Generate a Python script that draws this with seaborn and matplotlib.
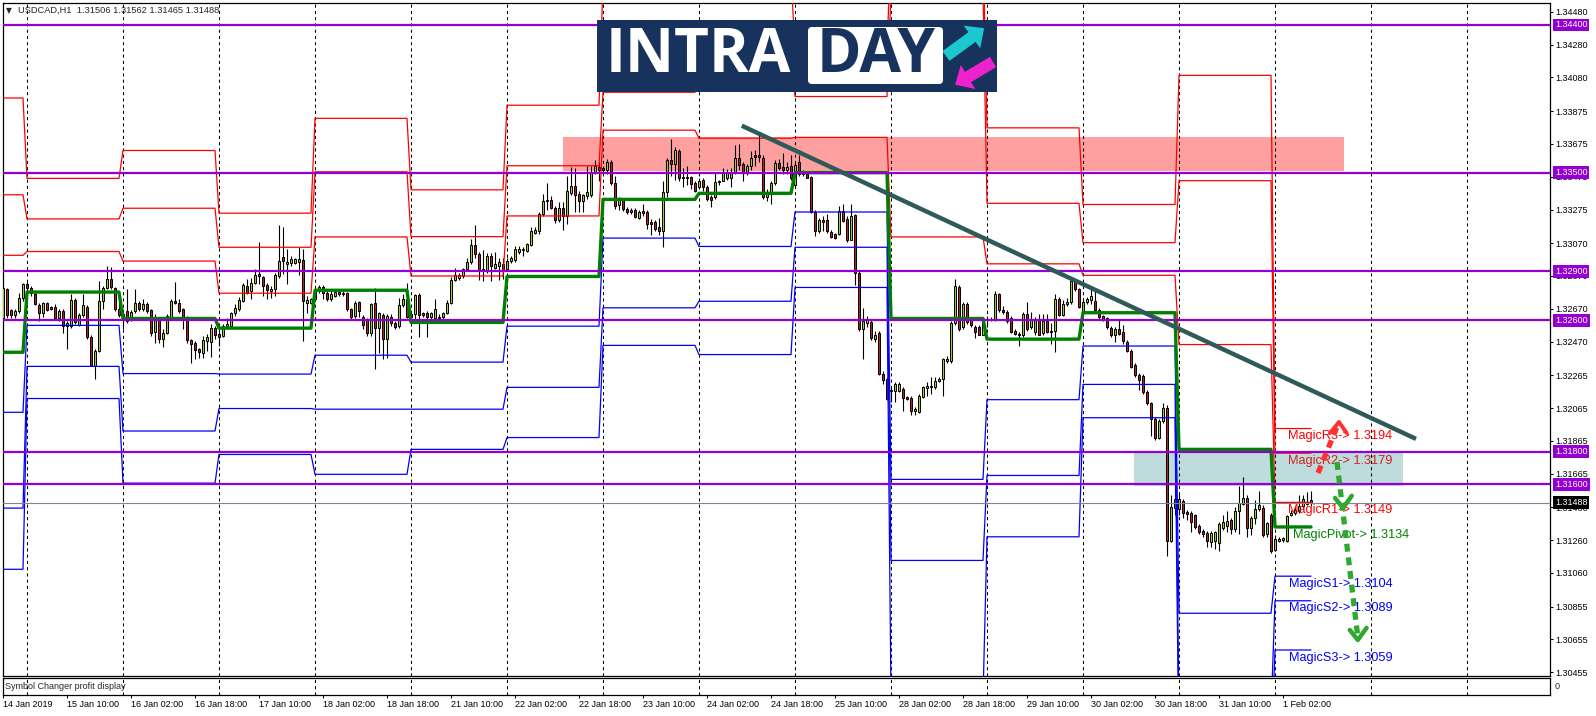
import numpy as np
import pandas as pd
import matplotlib
matplotlib.use("Agg")
import matplotlib.pyplot as plt
import seaborn as sns
from matplotlib.patches import Rectangle, FancyBboxPatch, FancyArrow
from matplotlib.transforms import blended_transform_factory

sns.set_theme(style="white")
plt.rcParams['font.family'] = ['Liberation Sans', 'DejaVu Sans']

# ---------------- data ----------------
header_text = "USDCAD,H1  1.31506 1.31562 1.31465 1.31488"

opens = [
    1.32616,1.32792,1.32660,1.32630,1.32656,1.32733,1.32823,1.32798,1.32762,1.32691,1.32646,1.32703,
    1.32681,1.32683,1.32616,1.32656,1.32565,1.32565,1.32723,1.32569,1.32630,1.32683,1.32500,1.32321,
    1.32412,1.32717,1.32798,1.32849,1.32798,1.32670,1.32609,1.32656,1.32601,1.32656,1.32703,1.32666,
    1.32697,1.32660,1.32528,1.32605,1.32483,1.32524,1.32622,1.32717,1.32703,1.32666,1.32616,1.32479,
    1.32463,1.32422,1.32402,1.32473,1.32467,1.32553,1.32514,1.32504,1.32565,1.32565,1.32642,1.32666,
    1.32717,1.32809,1.32778,1.32829,1.32880,1.32865,1.32813,1.32778,1.32788,1.32870,1.32987,1.32941,
    1.32947,1.32951,1.32955,1.32967,1.32703,1.32703,1.32727,1.32778,1.32804,1.32768,1.32727,1.32748,
    1.32772,1.32768,1.32764,1.32670,1.32626,1.32711,1.32622,1.32605,1.32524,1.32703,1.32555,1.32630,
    1.32488,1.32622,1.32585,1.32565,1.32691,1.32731,1.32636,1.32636,1.32752,1.32642,1.32646,1.32622,
    1.32616,1.32622,1.32622,1.32642,1.32706,1.32844,1.32858,1.32867,1.32910,1.32956,1.33056,1.33003,
    1.32898,1.32898,1.32991,1.32921,1.32933,1.32914,1.32914,1.32961,1.32968,1.33015,1.33026,1.33022,
    1.33061,1.33131,1.33143,1.33248,1.33325,1.33334,1.33283,1.33213,1.33283,1.33236,1.33376,1.33416,
    1.33372,1.33325,1.33358,1.33365,1.33505,1.33535,1.33528,1.33516,1.33563,1.33435,1.33301,1.33334,
    1.33278,1.33271,1.33271,1.33225,1.33264,1.33260,1.33201,1.33201,1.33166,1.33143,1.33381,1.33575,
    1.33551,1.33633,1.33474,1.33474,1.33474,1.33435,1.33411,1.33458,1.33411,1.33353,1.33353,1.33442,
    1.33451,1.33470,1.33465,1.33498,1.33591,1.33551,1.33498,1.33540,1.33610,1.33610,1.33591,1.33353,
    1.33376,1.33435,1.33558,1.33535,1.33516,1.33540,1.33423,1.33563,1.33505,1.33493,1.33474,1.33260,
    1.33143,1.33213,1.33213,1.33138,1.33124,1.33124,1.33264,1.33218,1.33092,1.33241,1.32886,1.32548,
    1.32583,1.32587,1.32485,1.32524,1.32275,1.32244,1.32167,1.32167,1.32167,1.32181,1.32135,1.32128,
    1.32046,1.32041,1.32135,1.32186,1.32191,1.32191,1.32228,1.32244,1.32349,1.32349,1.32583,1.32804,
    1.32559,1.32699,1.32606,1.32559,1.32559,1.32513,1.32601,1.32601,1.32606,1.32758,1.32664,1.32653,
    1.32611,1.32536,1.32517,1.32513,1.32641,1.32559,1.32531,1.32601,1.32524,1.32594,1.32531,1.32536,
    1.32727,1.32634,1.32699,1.32711,1.32839,1.32788,1.32653,1.32711,1.32723,1.32718,1.32664,1.32625,
    1.32611,1.32555,1.32508,1.32548,1.32531,1.32466,1.32415,1.32326,1.32268,1.32261,1.32163,1.32093,
    1.31999,1.31883,1.31988,1.32065,1.31257,1.31458,1.31451,1.31497,1.31434,1.31428,1.31411,1.31346,
    1.31318,1.31304,1.31248,1.31253,1.31241,1.31334,1.31346,1.31381,1.31327,1.31439,1.31481,1.31514,
    1.31334,1.31393,1.31451,1.31458,1.31299,1.31416,1.31201,1.31257,1.31262,1.31257,1.31416,1.31428,
    1.31439,1.31467,1.31486,1.31506]

highs = [
    1.32809,1.32798,1.32670,1.32670,1.32764,1.32829,1.32833,1.32809,1.32772,1.32703,1.32711,1.32711,
    1.32690,1.32697,1.32666,1.32666,1.32595,1.32758,1.32737,1.32646,1.32762,1.32691,1.32508,1.32422,
    1.32839,1.32809,1.32930,1.32926,1.32804,1.32778,1.32666,1.32792,1.32660,1.32792,1.32717,1.32727,
    1.32711,1.32670,1.32636,1.32616,1.32544,1.32636,1.32727,1.32835,1.32731,1.32676,1.32626,1.32488,
    1.32473,1.32433,1.32504,1.32514,1.32575,1.32565,1.32534,1.32575,1.32616,1.32650,1.32697,1.32742,
    1.32825,1.32849,1.32859,1.32910,1.33077,1.32870,1.32829,1.32809,1.32890,1.33178,1.33166,1.33032,
    1.32991,1.32981,1.33045,1.33032,1.32748,1.32737,1.32788,1.32813,1.32813,1.32778,1.32778,1.32790,
    1.32788,1.32778,1.32772,1.32676,1.32717,1.32717,1.32630,1.32616,1.32707,1.32798,1.32650,1.32646,
    1.32636,1.32636,1.32595,1.32737,1.32758,1.32829,1.32646,1.32758,1.32768,1.32650,1.32656,1.32650,
    1.32727,1.32640,1.32650,1.32723,1.32863,1.32921,1.32886,1.32921,1.32980,1.33096,1.33178,1.33015,
    1.33026,1.33008,1.33008,1.33015,1.32980,1.32980,1.32980,1.32991,1.33054,1.33050,1.33045,1.33073,
    1.33166,1.33171,1.33260,1.33372,1.33435,1.33358,1.33299,1.33318,1.33318,1.33481,1.33535,1.33528,
    1.33388,1.33372,1.33540,1.33540,1.33575,1.33563,1.33540,1.33582,1.33575,1.33481,1.33353,1.33341,
    1.33288,1.33283,1.33283,1.33271,1.33311,1.33271,1.33218,1.33213,1.33225,1.33451,1.33591,1.33703,
    1.33656,1.33645,1.33528,1.33540,1.33481,1.33446,1.33470,1.33470,1.33423,1.33365,1.33498,1.33458,
    1.33528,1.33521,1.33528,1.33668,1.33675,1.33563,1.33551,1.33633,1.33638,1.33738,1.33610,1.33400,
    1.33446,1.33575,1.33582,1.33621,1.33563,1.33610,1.33563,1.33610,1.33516,1.33505,1.33481,1.33271,
    1.33225,1.33236,1.33248,1.33148,1.33131,1.33295,1.33306,1.33236,1.33311,1.33248,1.32898,1.32676,
    1.32629,1.32606,1.32536,1.32536,1.32291,1.32256,1.32186,1.32221,1.32221,1.32191,1.32139,1.32139,
    1.32069,1.32151,1.32198,1.32221,1.32256,1.32256,1.32256,1.32373,1.32384,1.32594,1.32851,1.32816,
    1.32711,1.32711,1.32618,1.32571,1.32571,1.32618,1.32625,1.32618,1.32781,1.32769,1.32688,1.32664,
    1.32625,1.32548,1.32531,1.32653,1.32711,1.32648,1.32618,1.32641,1.32641,1.32641,1.32583,1.32758,
    1.32741,1.32723,1.32734,1.32851,1.32851,1.32797,1.32734,1.32741,1.32804,1.32781,1.32676,1.32634,
    1.32618,1.32564,1.32559,1.32606,1.32571,1.32478,1.32424,1.32338,1.32279,1.32275,1.32174,1.32104,
    1.32011,1.31999,1.32097,1.32081,1.31533,1.31602,1.31544,1.31509,1.31444,1.31439,1.31421,1.31358,
    1.31327,1.31318,1.31318,1.31318,1.31369,1.31416,1.31439,1.31393,1.31462,1.31591,1.31644,1.31533,
    1.31404,1.31504,1.31560,1.31474,1.31369,1.31428,1.31288,1.31276,1.31281,1.31416,1.31444,1.31462,
    1.31533,1.31533,1.31556,1.31562]

lows = [
    1.32605,1.32616,1.32616,1.32616,1.32646,1.32720,1.32768,1.32748,1.32691,1.32595,1.32622,1.32656,
    1.32660,1.32605,1.32595,1.32524,1.32427,1.32555,1.32575,1.32565,1.32622,1.32483,1.32321,1.32244,
    1.32406,1.32666,1.32788,1.32788,1.32656,1.32620,1.32544,1.32581,1.32595,1.32646,1.32656,1.32656,
    1.32646,1.32504,1.32463,1.32463,1.32439,1.32514,1.32616,1.32697,1.32646,1.32544,1.32463,1.32337,
    1.32362,1.32372,1.32372,1.32412,1.32378,1.32483,1.32443,1.32500,1.32544,1.32555,1.32626,1.32656,
    1.32711,1.32758,1.32727,1.32819,1.32819,1.32748,1.32727,1.32737,1.32748,1.32859,1.32880,1.32819,
    1.32930,1.32941,1.32874,1.32473,1.32646,1.32697,1.32717,1.32768,1.32727,1.32717,1.32717,1.32740,
    1.32748,1.32750,1.32656,1.32601,1.32616,1.32622,1.32544,1.32504,1.32504,1.32305,1.32402,1.32362,
    1.32372,1.32565,1.32544,1.32555,1.32683,1.32616,1.32595,1.32601,1.32500,1.32620,1.32500,1.32610,
    1.32605,1.32600,1.32610,1.32636,1.32699,1.32839,1.32844,1.32858,1.32898,1.32945,1.32980,1.32844,
    1.32839,1.32886,1.32839,1.32910,1.32844,1.32851,1.32898,1.32952,1.32956,1.33003,1.32991,1.33015,
    1.33050,1.33124,1.33124,1.33236,1.33271,1.33278,1.33194,1.33201,1.33148,1.33185,1.33365,1.33260,
    1.33260,1.33260,1.33341,1.33353,1.33493,1.33446,1.33505,1.33493,1.33423,1.33278,1.33271,1.33264,
    1.33248,1.33248,1.33225,1.33218,1.33236,1.33155,1.33120,1.33143,1.33120,1.33045,1.33353,1.33481,
    1.33458,1.33451,1.33411,1.33423,1.33400,1.33381,1.33400,1.33388,1.33330,1.33288,1.33341,1.33423,
    1.33446,1.33458,1.33411,1.33493,1.33516,1.33446,1.33488,1.33516,1.33540,1.33563,1.33341,1.33330,
    1.33311,1.33423,1.33516,1.33493,1.33493,1.33458,1.33411,1.33481,1.33481,1.33465,1.33255,1.33115,
    1.33131,1.33143,1.33131,1.33103,1.33096,1.33120,1.33201,1.33078,1.33092,1.32816,1.32536,1.32361,
    1.32559,1.32478,1.32466,1.32268,1.32214,1.32116,1.32104,1.32104,1.32163,1.32046,1.32116,1.32023,
    1.32023,1.32034,1.32128,1.32139,1.32151,1.32181,1.32221,1.32139,1.32338,1.32338,1.32571,1.32536,
    1.32548,1.32578,1.32559,1.32489,1.32508,1.32508,1.32559,1.32594,1.32594,1.32653,1.32641,1.32583,
    1.32524,1.32513,1.32443,1.32501,1.32536,1.32548,1.32513,1.32508,1.32513,1.32524,1.32454,1.32408,
    1.32625,1.32629,1.32688,1.32699,1.32781,1.32676,1.32641,1.32699,1.32699,1.32653,1.32606,1.32594,
    1.32548,1.32501,1.32466,1.32508,1.32454,1.32408,1.32307,1.32256,1.32174,1.32151,1.32081,1.31894,
    1.31871,1.31878,1.31976,1.31164,1.31248,1.31416,1.31416,1.31393,1.31381,1.31311,1.31327,1.31295,
    1.31281,1.31218,1.31218,1.31206,1.31194,1.31323,1.31311,1.31299,1.31311,1.31299,1.31474,1.31276,
    1.31288,1.31358,1.31439,1.31276,1.31281,1.31183,1.31194,1.31248,1.31248,1.31248,1.31404,1.31416,
    1.31428,1.31458,1.31474,1.31465]

closes = [
    1.32798,1.32630,1.32632,1.32656,1.32733,1.32823,1.32798,1.32768,1.32697,1.32642,1.32703,1.32662,
    1.32666,1.32616,1.32656,1.32565,1.32585,1.32721,1.32589,1.32630,1.32691,1.32500,1.32325,1.32412,
    1.32717,1.32798,1.32849,1.32804,1.32670,1.32630,1.32636,1.32595,1.32650,1.32703,1.32666,1.32697,
    1.32656,1.32524,1.32622,1.32483,1.32524,1.32626,1.32717,1.32703,1.32656,1.32605,1.32479,1.32453,
    1.32418,1.32406,1.32479,1.32500,1.32553,1.32508,1.32500,1.32565,1.32575,1.32642,1.32672,1.32723,
    1.32813,1.32768,1.32829,1.32874,1.32870,1.32809,1.32784,1.32792,1.32874,1.32961,1.32961,1.32955,
    1.32971,1.32971,1.32975,1.32717,1.32723,1.32727,1.32778,1.32804,1.32768,1.32727,1.32760,1.32772,
    1.32758,1.32758,1.32666,1.32622,1.32707,1.32656,1.32569,1.32524,1.32697,1.32555,1.32642,1.32488,
    1.32626,1.32581,1.32561,1.32691,1.32731,1.32622,1.32622,1.32752,1.32630,1.32630,1.32622,1.32646,
    1.32666,1.32616,1.32642,1.32703,1.32844,1.32874,1.32874,1.32914,1.32956,1.33061,1.33003,1.32898,
    1.32910,1.32991,1.32933,1.32945,1.32956,1.32945,1.32961,1.32980,1.33033,1.33033,1.33033,1.33066,
    1.33143,1.33148,1.33248,1.33330,1.33334,1.33283,1.33213,1.33283,1.33236,1.33388,1.33416,1.33365,
    1.33325,1.33365,1.33381,1.33505,1.33540,1.33516,1.33516,1.33563,1.33435,1.33295,1.33341,1.33278,
    1.33260,1.33260,1.33232,1.33260,1.33255,1.33185,1.33185,1.33155,1.33143,1.33381,1.33575,1.33551,
    1.33638,1.33470,1.33465,1.33465,1.33428,1.33388,1.33451,1.33411,1.33341,1.33334,1.33442,1.33451,
    1.33500,1.33500,1.33505,1.33591,1.33544,1.33498,1.33540,1.33591,1.33598,1.33598,1.33353,1.33381,
    1.33435,1.33558,1.33528,1.33516,1.33535,1.33470,1.33544,1.33493,1.33493,1.33470,1.33260,1.33143,
    1.33213,1.33201,1.33143,1.33108,1.33103,1.33264,1.33208,1.33092,1.33236,1.32886,1.32548,1.32594,
    1.32599,1.32489,1.32513,1.32275,1.32237,1.32121,1.32174,1.32214,1.32214,1.32128,1.32121,1.32046,
    1.32058,1.32139,1.32191,1.32198,1.32198,1.32228,1.32244,1.32361,1.32361,1.32583,1.32811,1.32548,
    1.32699,1.32587,1.32571,1.32531,1.32513,1.32606,1.32606,1.32606,1.32758,1.32664,1.32653,1.32594,
    1.32531,1.32517,1.32508,1.32641,1.32548,1.32606,1.32606,1.32513,1.32594,1.32531,1.32536,1.32727,
    1.32634,1.32699,1.32711,1.32839,1.32788,1.32681,1.32711,1.32727,1.32746,1.32664,1.32618,1.32606,
    1.32559,1.32508,1.32548,1.32517,1.32471,1.32415,1.32314,1.32268,1.32237,1.32163,1.32093,1.31999,
    1.31883,1.31988,1.32065,1.31257,1.31462,1.31509,1.31509,1.31428,1.31421,1.31369,1.31341,1.31311,
    1.31299,1.31253,1.31304,1.31311,1.31358,1.31369,1.31374,1.31327,1.31439,1.31486,1.31514,1.31334,
    1.31393,1.31451,1.31474,1.31288,1.31365,1.31194,1.31264,1.31264,1.31271,1.31404,1.31428,1.31444,
    1.31467,1.31509,1.31481,1.31488]

# daily pivot levels (one value per trading day), day lengths in H1 bars
day_len = [6, 24, 24, 24, 24, 24, 24, 24, 24, 24, 24, 24, 24, 24, 10]
r3 = [1.33955, 1.33465, 1.33635, 1.33253, 1.33831, 1.33395, 1.33911, 1.34650, 1.34700, 1.34250, 1.34900, 1.33773, 1.33306, 1.34093, 1.3194]
r2 = [1.33365, 1.33218, 1.33283, 1.33045, 1.33505, 1.33110, 1.33542, 1.33990, 1.34250, 1.33964, 1.34600, 1.33313, 1.33073, 1.33451, 1.3179]
r1 = [1.32996, 1.33019, 1.32961, 1.32765, 1.33108, 1.32870, 1.33236, 1.33759, 1.33710, 1.33715, 1.33108, 1.32944, 1.32874, 1.32452, 1.3149]
pv = [1.32405, 1.32772, 1.32611, 1.32552, 1.32783, 1.32587, 1.32867, 1.33337, 1.33374, 1.33500, 1.32611, 1.32485, 1.32646, 1.31813, 1.3134]
s1 = [1.32039, 1.32569, 1.32275, 1.32272, 1.32387, 1.32345, 1.32564, 1.33101, 1.33050, 1.33260, 1.31630, 1.32116, 1.32443, 1.30814, 1.3104]
s2 = [1.31455, 1.32319, 1.31925, 1.32062, 1.32058, 1.32058, 1.32191, 1.32676, 1.32716, 1.33045, 1.31136, 1.31654, 1.32209, 1.30200, 1.3089]
s3 = [1.31082, 1.32123, 1.31607, 1.31782, 1.31661, 1.31813, 1.31885, 1.32447, 1.32391, 1.32800, 1.30300, 1.31280, 1.32006, 1.29900, 1.3059]

magic_labels = ["MagicR3-> 1.3194", "MagicR2-> 1.3179", "MagicR1-> 1.3149", "MagicPivot-> 1.3134",
                "MagicS1-> 1.3104", "MagicS2-> 1.3089", "MagicS3-> 1.3059"]
magic_values = [1.3194, 1.3179, 1.3149, 1.3134, 1.3104, 1.3089, 1.3059]
magic_colors = ["#FF0000", "#D42020", "#FF0000", "#008000", "#0000FF", "#0000FF", "#0000FF"]
magic_label_bar = [321.2, 321.2, 321.2, 322.5, 321.6, 321.6, 321.6]

hlines_purple = [1.3440, 1.3350, 1.3290, 1.3260, 1.3180, 1.3160]
last_price = 1.31488

price_ticks = [1.34480, 1.34280, 1.34080, 1.33875, 1.33675, 1.33475, 1.33275, 1.33070, 1.32870, 1.32670,
               1.32470, 1.32265, 1.32065, 1.31865, 1.31665, 1.31460, 1.31260, 1.31060, 1.30855, 1.30655, 1.30455]

day_start_bars = [6, 30, 54, 78, 102, 126, 150, 174, 198, 222, 246, 270, 294, 318, 342, 366]
date_tick_bars = [0, 16, 32, 48, 64, 80, 96, 112, 128, 144, 160, 176, 192, 208, 224, 240, 256, 272, 288, 304, 320]
date_tick_labels = ["14 Jan 2019", "15 Jan 10:00", "16 Jan 02:00", "16 Jan 18:00", "17 Jan 10:00",
                    "18 Jan 02:00", "18 Jan 18:00", "21 Jan 10:00", "22 Jan 02:00", "22 Jan 18:00",
                    "23 Jan 10:00", "24 Jan 02:00", "24 Jan 18:00", "25 Jan 10:00", "28 Jan 02:00",
                    "28 Jan 18:00", "29 Jan 10:00", "30 Jan 02:00", "30 Jan 18:00", "31 Jan 10:00",
                    "1 Feb 02:00"]

resistance_zone = dict(bars=(140.0, 335.2), prices=(1.33509, 1.33719))
support_zone = dict(bars=(282.7, 350.0), prices=(1.31591, 1.31789))
trend_bars = [184.7, 353.25]
trend_prices = [1.33786, 1.31877]

red_arrow_bars = [328.75, 333.4]
red_arrow_prices = [1.31669, 1.31945]
red_head_bars = [331.75, 334.0, 335.9]
red_head_prices = [1.31913, 1.31980, 1.31913]
green_arrow_bars = [333.5, 338.6]
green_arrow_prices = [1.31736, 1.30690]
green_chevron_bars = [[333.0, 335.0, 337.2], [336.7, 338.7, 340.9]]
green_chevron_prices = [[1.31517, 1.31456, 1.31530], [1.30712, 1.30651, 1.30725]]

# ---------------- figure ----------------
W, H = 1596, 716
fig = plt.figure(figsize=(W / 100, H / 100), dpi=100)
fig.patch.set_facecolor("white")

ax = fig.add_axes([2.5 / W, 1 - 676 / H, (1550 - 2.5) / W, (676 - 3) / H])
sub = fig.add_axes([2.5 / W, 1 - 695 / H, (1550 - 2.5) / W, (695 - 678) / H])

XMIN, XMAX = -0.125, 386.75
YMIN, YMAX = 1.304315, 1.345341
for a in (ax, sub):
    a.set_facecolor("white")
    a.set_xlim(XMIN, XMAX)
    for s in a.spines.values():
        s.set_visible(True)
        s.set_color("black")
        s.set_linewidth(0.9)
ax.set_ylim(YMIN, YMAX)
sub.set_ylim(0, 1)

# day separators (dashed grid)
for b in day_start_bars:
    for a in (ax, sub):
        a.axvline(b, color="black", lw=0.75, ls=(0, (3.0, 3.0)), zorder=1.5)

# zones
rz = Rectangle((resistance_zone["bars"][0], resistance_zone["prices"][0]),
               resistance_zone["bars"][1] - resistance_zone["bars"][0],
               resistance_zone["prices"][1] - resistance_zone["prices"][0],
               facecolor="#FFA0A0", edgecolor="none", zorder=1)
sz = Rectangle((support_zone["bars"][0], support_zone["prices"][0]),
               support_zone["bars"][1] - support_zone["bars"][0],
               support_zone["prices"][1] - support_zone["prices"][0],
               facecolor="#BEDCDC", edgecolor="none", zorder=1)
ax.add_patch(rz)
ax.add_patch(sz)

# candles
o = np.array(opens); h = np.array(highs); l = np.array(lows); c = np.array(closes)
assert len(o) == len(h) == len(l) == len(c) == sum(day_len), (len(o), len(h), len(l), len(c))
bars = np.arange(len(o))
up = c >= o
ax.vlines(bars, l, h, color="black", lw=0.8, zorder=3)
bottoms = np.minimum(o, c)
heights = np.maximum(np.abs(c - o), 0.00001)
ax.bar(bars[up], heights[up], bottom=bottoms[up], width=0.74, color="#9ACD32",
       edgecolor="black", linewidth=0.7, zorder=3.5)
ax.bar(bars[~up], heights[~up], bottom=bottoms[~up], width=0.74, color="#B22222",
       edgecolor="black", linewidth=0.7, zorder=3.5)

# pivot levels (per bar)
levels = pd.DataFrame({
    "bar": bars,
    "R3": np.repeat(r3, day_len), "R2": np.repeat(r2, day_len), "R1": np.repeat(r1, day_len),
    "P": np.repeat(pv, day_len),
    "S1": np.repeat(s1, day_len), "S2": np.repeat(s2, day_len), "S3": np.repeat(s3, day_len),
})
for name in ["R3", "R2", "R1"]:
    sns.lineplot(data=levels, x="bar", y=name, color="#FF0000", linewidth=0.9, ax=ax,
                 estimator=None, zorder=4)
for name in ["S1", "S2", "S3"]:
    sns.lineplot(data=levels, x="bar", y=name, color="#0000FF", linewidth=0.9, ax=ax,
                 estimator=None, zorder=4)
sns.lineplot(data=levels, x="bar", y="P", color="#008000", linewidth=2.4, ax=ax,
             estimator=None, zorder=4.2)

# horizontal levels
for lv in hlines_purple:
    ax.axhline(lv, color="#9400D3", lw=1.6, zorder=5)
ax.axhline(last_price, color="#778899", lw=0.8, zorder=4.5)

# trendline
sns.lineplot(x=trend_bars, y=trend_prices, color="#2F5A5A", linewidth=3.2, ax=ax,
             estimator=None, zorder=6, solid_capstyle="butt")

# magic labels
for lbl, val, col, xb in zip(magic_labels, magic_values, magic_colors, magic_label_bar):
    ax.annotate(lbl, (xb, val), xytext=(0, -1.2), textcoords="offset points",
                va="top", ha="left", fontsize=9.2, color=col, zorder=7)

# arrows
ax.plot(red_arrow_bars, red_arrow_prices, color="#FF3030", lw=3.8,
        ls=(0, (1.5, 1.1)), zorder=8, solid_capstyle="butt")
ax.plot(red_head_bars, red_head_prices, color="#FF3030", lw=2.8, zorder=8)
ax.plot(green_arrow_bars, green_arrow_prices, color="#2EA82E", lw=3.8,
        ls=(0, (1.5, 1.1)), zorder=8)
for cb, cp in zip(green_chevron_bars, green_chevron_prices):
    ax.plot(cb, cp, color="#2EA82E", lw=3.2, zorder=8)

# axes ticks
ax.set_xticks([])
ax.set_xlabel("")
ax.set_ylabel("")
ax.yaxis.tick_right()
ax.set_yticks(price_ticks)
ax.set_yticklabels([f"{v:.5f}" for v in price_ticks])
ax.tick_params(axis="y", right=True, left=False, labelright=True, labelleft=False,
               length=2.2, width=0.75, pad=1.8, labelsize=6.5, colors="black", direction="out")

tr = blended_transform_factory(ax.transAxes, ax.transData)
for lv in hlines_purple:
    ax.text(1.0032, lv, f"{lv:.5f}", transform=tr, va="center", ha="left", fontsize=6.5,
            color="white", zorder=20, clip_on=False,
            bbox=dict(boxstyle="square,pad=0.22", fc="#9400D3", ec="none"))
ax.text(1.0032, last_price, f"{last_price:.5f}", transform=tr, va="center", ha="left",
        fontsize=6.5, color="white", zorder=20, clip_on=False,
        bbox=dict(boxstyle="square,pad=0.22", fc="black", ec="none"))

sub.set_yticks([])
sub.set_xticks(date_tick_bars)
sub.set_xticklabels(date_tick_labels)
sub.tick_params(axis="x", bottom=True, length=2.2, width=0.75, pad=1.2, labelsize=6.5,
                colors="black", direction="out")
for t in sub.get_xticklabels():
    t.set_ha("left")
sub.text(0.0018, 0.5, "Symbol Changer profit display", transform=sub.transAxes,
         fontsize=6.5, va="center", ha="left")
sub.text(1.003, 0.5, "0", transform=sub.transAxes, fontsize=6.5, va="center", ha="left")

# overlay: header + logo (figure pixel space)
ov = fig.add_axes([0, 0, 1, 1], zorder=30)
ov.set_xlim(0, W)
ov.set_ylim(H, 0)
ov.axis("off")
ov.text(6, 10.5, "\u25BC", fontsize=5.5, family="DejaVu Sans", va="center", ha="left")
ov.text(18, 10.5, header_text, fontsize=6.7, va="center", ha="left")

navy = "#17335D"
ov.add_patch(Rectangle((597, 20), 400, 72, facecolor=navy, edgecolor="none"))
ov.text(606, 57, "INTRA", fontsize=43.5, family=["Open Sans", "DejaVu Sans"], weight="bold",
        color="white", va="center", ha="left")
ov.add_patch(FancyBboxPatch((808, 27), 135, 57, boxstyle="round,pad=0,rounding_size=4",
                            facecolor="white", edgecolor="none"))
ov.text(876, 57, "DAY", fontsize=43.5, family=["Open Sans", "DejaVu Sans"], weight="bold",
        color=navy, va="center", ha="center")
ov.add_patch(FancyArrow(946, 56, 26, -19, width=12, head_width=28, head_length=15,
                        length_includes_head=False, color="#1CC8D0", lw=0))
ov.add_patch(FancyArrow(993, 62, -25, 15, width=12, head_width=28, head_length=15,
                        length_includes_head=False, color="#EE22CC", lw=0))

fig.savefig("out.png", dpi=100, facecolor="white")
